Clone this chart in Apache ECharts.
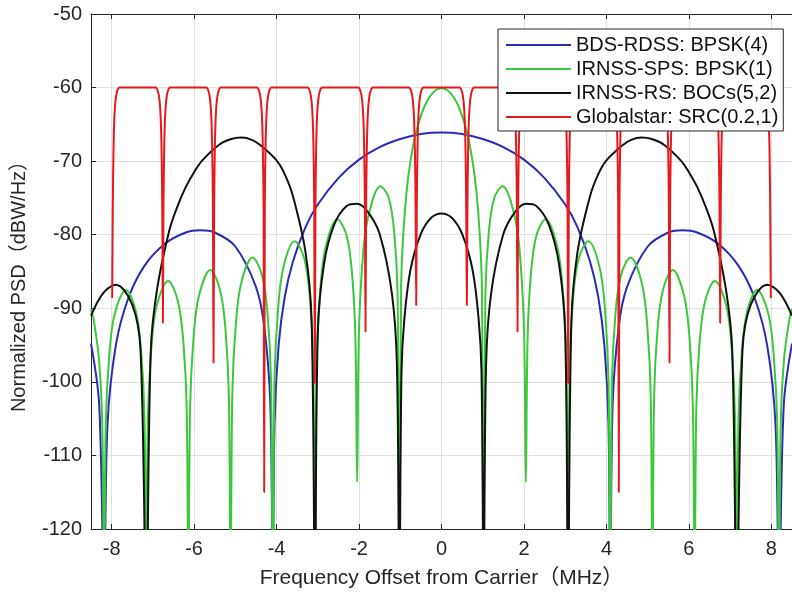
<!DOCTYPE html>
<html>
<head>
<meta charset="utf-8">
<script src="https://cdn.jsdelivr.net/npm/echarts@6/dist/echarts.min.js"></script>
<style>
  html, body { margin: 0; padding: 0; background: #fff; }
  #chart { width: 792px; height: 595px; }
</style>
</head>
<body>
<div id="chart"></div>
<script>
// Frequency offsets in MHz and normalized PSD in dBW/Hz for each signal.
// Values below -120 mark spectral nulls that drop past the bottom of the plot.

const xTicks = [-8, -6, -4, -2, 0, 2, 4, 6, 8];

// BDS-RDSS: BPSK(4)
const bdsFreq = [-8.5, -8.3, -8.184, -8.1, -7.9, -7.6, -7.2, -6.7, -6.2, -5.85,
  -5.5, -5.0, -4.5, -4.3, -4.15, -4.092, -4.05, -3.95, -3.8, -3.6,
  -3.3, -3.0, -2.5, -2.0, -1.5, -1.0, -0.5, 0,
  0.5, 1.0, 1.5, 2.0, 2.5, 3.0, 3.3, 3.6, 3.8, 3.95,
  4.05, 4.092, 4.15, 4.3, 4.5, 5.0, 5.5, 5.85, 6.2, 6.7,
  7.2, 7.6, 7.9, 8.1, 8.184, 8.3, 8.5];
const bdsPsd = [-94.8, -103.2, -130, -105.8, -95.1, -88.7, -84.2, -81.2, -79.7, -79.4,
  -79.7, -81.6, -87.1, -92.4, -103.2, -130, -105.8, -95.0, -88.4, -83.6,
  -79.0, -75.9, -72.3, -69.8, -68.1, -67.0, -66.3, -66.1,
  -66.3, -67.0, -68.1, -69.8, -72.3, -75.9, -79.0, -83.6, -88.4, -95.0,
  -105.8, -130, -103.2, -92.4, -87.1, -81.6, -79.7, -79.4, -79.7, -81.2,
  -84.2, -88.7, -95.1, -105.8, -130, -103.2, -94.8];

// IRNSS-SPS: BPSK(1)
const spsFreq = [-8.5, -8.44, -8.307, -8.225, -8.184, -8.143, -8.061, -7.928, -7.652, -7.417,
  -7.284, -7.202, -7.161, -7.12, -7.038, -6.905, -6.629, -6.394, -6.261, -6.179,
  -6.138, -6.097, -6.015, -5.882, -5.606, -5.371, -5.238, -5.156, -5.115, -5.074,
  -4.992, -4.859, -4.583, -4.348, -4.215, -4.133, -4.092, -4.051, -3.969, -3.836,
  -3.56, -3.325, -3.192, -3.11, -3.069, -3.028, -2.946, -2.813, -2.527, -2.302,
  -2.169, -2.087, -2.046, -2.005, -1.923, -1.79, -1.483, -1.279, -1.146, -1.064,
  -1.023, -0.98, -0.93, -0.85, -0.75, -0.6, -0.4, -0.2, 0,
  0.2, 0.4, 0.6, 0.75, 0.85, 0.93, 0.98, 1.023,
  1.064, 1.146, 1.279, 1.483, 1.79, 1.923, 2.005, 2.046, 2.087, 2.169,
  2.302, 2.527, 2.813, 2.946, 3.028, 3.069, 3.11, 3.192, 3.325, 3.56,
  3.836, 3.969, 4.051, 4.092, 4.133, 4.215, 4.348, 4.583, 4.859, 4.992,
  5.074, 5.115, 5.156, 5.238, 5.371, 5.606, 5.882, 6.015, 6.097, 6.138,
  6.179, 6.261, 6.394, 6.629, 6.905, 7.038, 7.12, 7.161, 7.202, 7.284,
  7.417, 7.652, 7.928, 8.061, 8.143, 8.184, 8.225, 8.307, 8.44, 8.5];
const spsPsd = [-90.1, -91.4, -96.9, -106.2, -130, -106.1, -96.7, -90.8, -87.5, -90.3,
  -95.8, -105.0, -130, -104.9, -95.5, -89.6, -86.3, -89.0, -94.5, -103.7,
  -130, -103.6, -94.1, -88.3, -84.8, -87.5, -92.9, -102.1, -130, -102.0,
  -92.5, -86.6, -83.1, -85.6, -91.0, -100.2, -130, -100.0, -90.5, -84.5,
  -80.9, -83.3, -88.6, -97.7, -130, -97.5, -87.9, -81.8, -77.9, -80.1,
  -85.3, -94.3, -113.6, -93.9, -84.2, -77.9, -73.4, -75.0, -79.7, -88.4,
  -130, -87.3, -80.2, -74.3, -69.9, -65.7, -62.4, -60.65, -60.1,
  -60.65, -62.4, -65.7, -69.9, -74.3, -80.2, -87.3, -130,
  -88.4, -79.7, -75.0, -73.4, -77.9, -84.2, -93.9, -113.6, -94.3, -85.3,
  -80.1, -77.9, -81.8, -87.9, -97.5, -130, -97.7, -88.6, -83.3, -80.9,
  -84.5, -90.5, -100.0, -130, -100.2, -91.0, -85.6, -83.1, -86.6, -92.5,
  -102.0, -130, -102.1, -92.9, -87.5, -84.8, -88.3, -94.1, -103.6, -130,
  -103.7, -94.5, -89.0, -86.3, -89.6, -95.5, -104.9, -130, -105.0, -95.8,
  -90.3, -87.5, -90.8, -96.7, -106.1, -130, -106.2, -96.9, -91.4, -90.1];

// IRNSS-RS: BOCs(5,2)
const rsFreq = [-8.5, -8.2, -7.9, -7.5, -7.3, -7.161, -7.05, -6.9, -6.6, -6.4,
  -6.2, -6.0, -5.8, -5.4, -5.1, -4.85, -4.6, -4.4, -4.0, -3.8,
  -3.6, -3.3, -3.15, -3.069, -3.0, -2.85, -2.6, -2.3, -2.05, -1.8,
  -1.5, -1.2, -1.08, -1.023, -0.97, -0.9, -0.75, -0.5, -0.25, 0,
  0.25, 0.5, 0.75, 0.9, 0.97, 1.023, 1.08, 1.2, 1.5, 1.8,
  2.05, 2.3, 2.6, 2.85, 3.0, 3.069, 3.15, 3.3, 3.6, 3.8,
  4.0, 4.4, 4.6, 4.85, 5.1, 5.4, 5.8, 6.0, 6.2, 6.4,
  6.6, 6.9, 7.05, 7.161, 7.3, 7.5, 7.9, 8.2, 8.5];
const rsPsd = [-91.0, -87.9, -86.8, -89.5, -95.6, -130, -95.7, -87.5, -79.4, -76.1,
  -73.5, -71.5, -69.9, -67.8, -67.0, -66.8, -67.1, -67.8, -69.9, -71.8,
  -74.8, -82.3, -91.7, -130, -93.4, -84.0, -78.6, -76.1, -75.8, -76.8,
  -79.9, -88.1, -97.9, -130, -98.6, -91.4, -84.7, -79.9, -77.7, -77.1,
  -77.7, -79.9, -84.7, -91.4, -98.6, -130, -97.9, -88.1, -79.9, -76.8,
  -75.8, -76.1, -78.6, -84.0, -93.4, -130, -91.7, -82.3, -74.8, -71.8,
  -69.9, -67.8, -67.1, -66.8, -67.0, -67.8, -69.9, -71.5, -73.5, -76.1,
  -79.4, -87.5, -95.7, -130, -95.6, -89.5, -86.8, -87.9, -91.0];

// Globalstar: SRC(0.2,1)
const gsFreq = [
  -7.986, -7.971, -7.956, -7.936, -7.906, -7.866, -7.806,
  -6.937, -6.877, -6.837, -6.807, -6.787, -6.772, -6.757, -6.742, -6.727, -6.707, -6.677, -6.637, -6.577,
  -5.709, -5.649, -5.609, -5.579, -5.559, -5.544, -5.529, -5.514, -5.499, -5.479, -5.449, -5.409, -5.349,
  -4.48, -4.42, -4.38, -4.35, -4.33, -4.315, -4.3, -4.285, -4.27, -4.25, -4.22, -4.18, -4.12,
  -3.252, -3.192, -3.152, -3.122, -3.102, -3.087, -3.072, -3.057, -3.042, -3.022, -2.992, -2.952, -2.892,
  -2.023, -1.963, -1.923, -1.893, -1.873, -1.858, -1.843, -1.828, -1.813, -1.793, -1.763, -1.723, -1.663,
  -0.794, -0.734, -0.694, -0.664, -0.644, -0.629, -0.614, -0.599, -0.584, -0.564, -0.534, -0.494, -0.434,
  0.434, 0.494, 0.534, 0.564, 0.584, 0.599, 0.614, 0.629, 0.644, 0.664, 0.694, 0.734, 0.794,
  1.663, 1.723, 1.763, 1.793, 1.813, 1.828, 1.843, 1.858, 1.873, 1.893, 1.923, 1.963, 2.023,
  2.892, 2.952, 2.992, 3.022, 3.042, 3.057, 3.072, 3.087, 3.102, 3.122, 3.152, 3.192, 3.252,
  4.12, 4.18, 4.22, 4.25, 4.27, 4.285, 4.3, 4.315, 4.33, 4.35, 4.38, 4.42, 4.48,
  5.349, 5.409, 5.449, 5.479, 5.499, 5.514, 5.529, 5.544, 5.559, 5.579, 5.609, 5.649, 5.709,
  6.577, 6.637, 6.677, 6.707, 6.727, 6.742, 6.757, 6.772, 6.787, 6.807, 6.837, 6.877, 6.937,
  7.806, 7.866, 7.906, 7.936, 7.956, 7.971, 7.986];
const gsPsd = [
  -88.6, -76, -69, -64.5, -61.8, -60.5, -60,
  -60, -60.5, -61.8, -64.5, -69, -76, -92.0, -76, -69, -64.5, -61.8, -60.5, -60,
  -60, -60.5, -61.8, -64.5, -69, -76, -97.4, -76, -69, -64.5, -61.8, -60.5, -60,
  -60, -60.5, -61.8, -64.5, -69, -76, -115.0, -76, -69, -64.5, -61.8, -60.5, -60,
  -60, -60.5, -61.8, -64.5, -69, -76, -100.2, -76, -69, -64.5, -61.8, -60.5, -60,
  -60, -60.5, -61.8, -64.5, -69, -76, -93.2, -76, -69, -64.5, -61.8, -60.5, -60,
  -60, -60.5, -61.8, -64.5, -69, -76, -89.6, -76, -69, -64.5, -61.8, -60.5, -60,
  -60, -60.5, -61.8, -64.5, -69, -76, -89.6, -76, -69, -64.5, -61.8, -60.5, -60,
  -60, -60.5, -61.8, -64.5, -69, -76, -93.2, -76, -69, -64.5, -61.8, -60.5, -60,
  -60, -60.5, -61.8, -64.5, -69, -76, -100.2, -76, -69, -64.5, -61.8, -60.5, -60,
  -60, -60.5, -61.8, -64.5, -69, -76, -115.0, -76, -69, -64.5, -61.8, -60.5, -60,
  -60, -60.5, -61.8, -64.5, -69, -76, -97.4, -76, -69, -64.5, -61.8, -60.5, -60,
  -60, -60.5, -61.8, -64.5, -69, -76, -92.0, -76, -69, -64.5, -61.8, -60.5, -60,
  -60, -60.5, -61.8, -64.5, -69, -76, -88.6];

const seriesNames = ['BDS-RDSS: BPSK(4)', 'IRNSS-SPS: BPSK(1)', 'IRNSS-RS: BOCs(5,2)', 'Globalstar: SRC(0.2,1)'];
const seriesColors = ['#2a2ab8', '#3cc83c', '#111111', '#e8191c'];

const pairs = (xs, ys) => xs.map((x, i) => [x, ys[i]]);

const FONT = "'Liberation Sans', Arial, 'Noto Sans CJK SC', sans-serif";
const INK = '#262626';

function lineSeries(idx, xs, ys, smooth) {
  return {
    name: seriesNames[idx],
    type: 'line',
    data: pairs(xs, ys),
    showSymbol: false,
    symbol: 'none',
    smooth: smooth,
    clip: true,
    lineStyle: { color: seriesColors[idx], width: 2 },
    itemStyle: { color: seriesColors[idx] },
    emphasis: { disabled: true }
  };
}

const chart = echarts.init(document.getElementById('chart'), null, { renderer: 'canvas' });
chart.setOption({
  animation: false,
  backgroundColor: '#ffffff',
  grid: { left: 91, top: 14, width: 710, height: 515, containLabel: false },
  xAxis: [
    {
      type: 'value', min: -8.5, max: 8.5, position: 'bottom',
      name: 'Frequency Offset from Carrier（MHz）',
      nameLocation: 'middle', nameGap: 39,
      nameTextStyle: { fontFamily: FONT, fontSize: 21, color: INK },
      axisLine: { show: true, onZero: false, lineStyle: { color: INK, width: 1 } },
      axisTick: { show: true, inside: true, length: 5, customValues: xTicks, lineStyle: { color: INK } },
      axisLabel: { customValues: xTicks, fontFamily: FONT, fontSize: 20, color: INK, margin: 10 },
      splitLine: { show: true, lineStyle: { color: '#e0e0e0', width: 1 } }
    },
    {
      type: 'value', min: -8.5, max: 8.5, position: 'top',
      axisLine: { show: true, onZero: false, lineStyle: { color: INK, width: 1 } },
      axisTick: { show: true, inside: true, length: 5, customValues: xTicks, lineStyle: { color: INK } },
      axisLabel: { show: false },
      splitLine: { show: false }
    }
  ],
  yAxis: [
    {
      type: 'value', min: -120, max: -50, interval: 10, position: 'left',
      name: 'Normalized PSD（dBW/Hz）',
      nameLocation: 'middle', nameGap: 62,
      nameTextStyle: { fontFamily: FONT, fontSize: 20, color: INK, padding: [0, 20, 0, 0] },
      axisLine: { show: true, onZero: false, lineStyle: { color: INK, width: 1 } },
      axisTick: { show: true, inside: true, length: 5, lineStyle: { color: INK } },
      axisLabel: { fontFamily: FONT, fontSize: 20, color: INK, margin: 9 },
      splitLine: { show: true, lineStyle: { color: '#e0e0e0', width: 1 } }
    }
  ],
  legend: {
    data: seriesNames,
    orient: 'vertical',
    left: 498, top: 29,
    padding: [6, 5, 4, 8],
    itemGap: 4,
    itemWidth: 65,
    itemHeight: 2,
    icon: 'rect',
    backgroundColor: '#ffffff',
    borderColor: INK,
    borderWidth: 1,
    textStyle: { fontFamily: FONT, fontSize: 20, color: '#111111' },
    selectedMode: false
  },
  series: [
    lineSeries(0, bdsFreq, bdsPsd, 0.35),
    lineSeries(1, spsFreq, spsPsd, 0.35),
    lineSeries(2, rsFreq, rsPsd, 0.35),
    lineSeries(3, gsFreq, gsPsd, 0.25)
  ]
});
</script>
</body>
</html>
